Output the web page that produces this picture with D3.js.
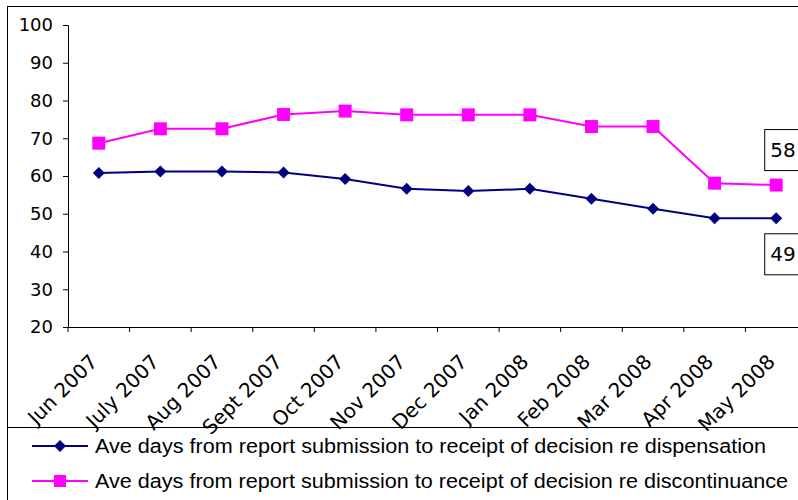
<!DOCTYPE html>
<html>
<head>
<meta charset="utf-8">
<script src="https://cdn.jsdelivr.net/npm/d3@7"></script>
<style>
  body { margin: 0; background: #fff; }
  text { font-family: "DejaVu Sans", sans-serif; fill: #000; }
</style>
</head>
<body>
<div id="chart"></div>
<script>
// Datos
const months = ["Jun 2007", "July 2007", "Aug 2007", "Sept 2007", "Oct 2007", "Nov 2007",
                "Dec 2007", "Jan 2008", "Feb 2008", "Mar 2008", "Apr 2008", "May 2008"];
const dispensation = [60.8, 61.2, 61.2, 60.9, 59.2, 56.6, 56.0, 56.6, 54.0, 51.3, 48.8, 48.8];
const discontinuance = [68.7, 72.5, 72.5, 76.3, 77.2, 76.2, 76.2, 76.2, 73.1, 73.1, 58.1, 57.6];
const yTicks = [20, 30, 40, 50, 60, 70, 80, 90, 100];
const seriesNames = [
    "Ave days from report submission to receipt of decision re dispensation",
    "Ave days from report submission to receipt of decision re discontinuance"
];

const svgWidth = 798, svgHeight = 500;
const margin = { top: 25, left: 68 };
const width = 739, height = 302;

const svg = d3.select("#chart")
    .append("svg")
    .attr("width", svgWidth)
    .attr("height", svgHeight);

// Marco exterior y leyenda
svg.append("rect").attr("x", 7.5).attr("y", 6.5).attr("width", 820).attr("height", 421)
    .attr("fill", "none").attr("stroke", "#000").attr("stroke-width", 1);
svg.append("rect").attr("x", 7.5).attr("y", 427.5).attr("width", 820).attr("height", 100)
    .attr("fill", "none").attr("stroke", "#000").attr("stroke-width", 1);

const g = svg.append("g").attr("transform", `translate(${margin.left}, ${margin.top})`);

// Escalas
const x = d3.scaleBand().domain(months).range([0, width]);
const y = d3.scaleLinear().domain([20, 100]).range([height, 0]);
const cx = d => x(d) + x.bandwidth() / 2;

// Eje Y
const yAxis = g.append("g")
    .call(d3.axisLeft(y).tickValues(yTicks).tickSize(5).tickPadding(10));
yAxis.selectAll("text").style("font-size", "18px").style("font-family", "DejaVu Sans");
yAxis.selectAll("line, path").attr("stroke", "#000");

// Eje X
const xAxis = g.append("g")
    .attr("transform", `translate(0, ${height})`)
    .call(d3.axisBottom(x).tickSize(0).tickFormat(""));
xAxis.select("path").attr("stroke", "#000");
xAxis.selectAll(".tick").remove();

const xb = g.append("g").attr("transform", `translate(0, ${height})`);
xb.selectAll("line")
    .data(months.concat([null]))
    .enter().append("line")
    .attr("x1", (d, i) => i * x.step()).attr("x2", (d, i) => i * x.step())
    .attr("y1", 0).attr("y2", 5).attr("stroke", "#000");

xb.selectAll("text")
    .data(months)
    .enter().append("text")
    .attr("transform", d => `translate(${cx(d)}, 36) rotate(-45)`)
    .attr("text-anchor", "end")
    .style("font-size", "20px")
    .text(d => d);

// Líneas
const line = d3.line().x((d, i) => cx(months[i])).y(d => y(d));

g.append("path").datum(dispensation)
    .attr("d", line).attr("fill", "none").attr("stroke", "#000080").attr("stroke-width", 2);
g.append("path").datum(discontinuance)
    .attr("d", line).attr("fill", "none").attr("stroke", "#FF00FF").attr("stroke-width", 2);

const diamond = d3.symbol().type(d3.symbolSquare).size(72);

g.selectAll(".dot")
    .data(dispensation)
    .enter().append("path")
    .attr("d", diamond)
    .attr("transform", (d, i) => `translate(${cx(months[i])}, ${y(d)}) rotate(45)`)
    .attr("fill", "#000080");

g.selectAll(".sq")
    .data(discontinuance)
    .enter().append("rect")
    .attr("x", (d, i) => cx(months[i]) - 6.5)
    .attr("y", d => y(d) - 6.5)
    .attr("width", 13).attr("height", 13)
    .attr("fill", "#FF00FF");

// Etiquetas de datos (último punto)
const last = months.length - 1;
const labels = [
    { v: discontinuance[last], dy: -56 },
    { v: dispensation[last], dy: 15 }
];
labels.forEach(l => {
    const lx = cx(months[last]) - 12, ly = y(l.v) + l.dy;
    g.append("rect").attr("x", lx + 0.5).attr("y", ly + 0.5).attr("width", 40).attr("height", 41)
        .attr("fill", "#fff").attr("stroke", "#000");
    g.append("text").attr("x", lx + 6).attr("y", ly + 28)
        .style("font-size", "20px").text(Math.round(l.v));
});

// Leyenda
const legend = svg.append("g");
const colors = ["#000080", "#FF00FF"];
seriesNames.forEach((name, i) => {
    const ly = 446 + i * 35;
    legend.append("line").attr("x1", 32).attr("x2", 88).attr("y1", ly).attr("y2", ly)
        .attr("stroke", colors[i]).attr("stroke-width", 2);
    if (i === 0) {
        legend.append("path").attr("d", diamond)
            .attr("transform", `translate(60, ${ly}) rotate(45)`).attr("fill", colors[i]);
    } else {
        legend.append("rect").attr("x", 54).attr("y", ly - 6).attr("width", 12).attr("height", 12)
            .attr("fill", colors[i]);
    }
    legend.append("text").attr("x", 95).attr("y", ly + 7)
        .attr("textLength", i === 0 ? 671 : 693)
        .attr("lengthAdjust", "spacingAndGlyphs")
        .style("font-family", "Liberation Sans Narrow, Liberation Sans, sans-serif")
        .style("font-size", "20px")
        .text(name);
});
</script>
</body>
</html>
